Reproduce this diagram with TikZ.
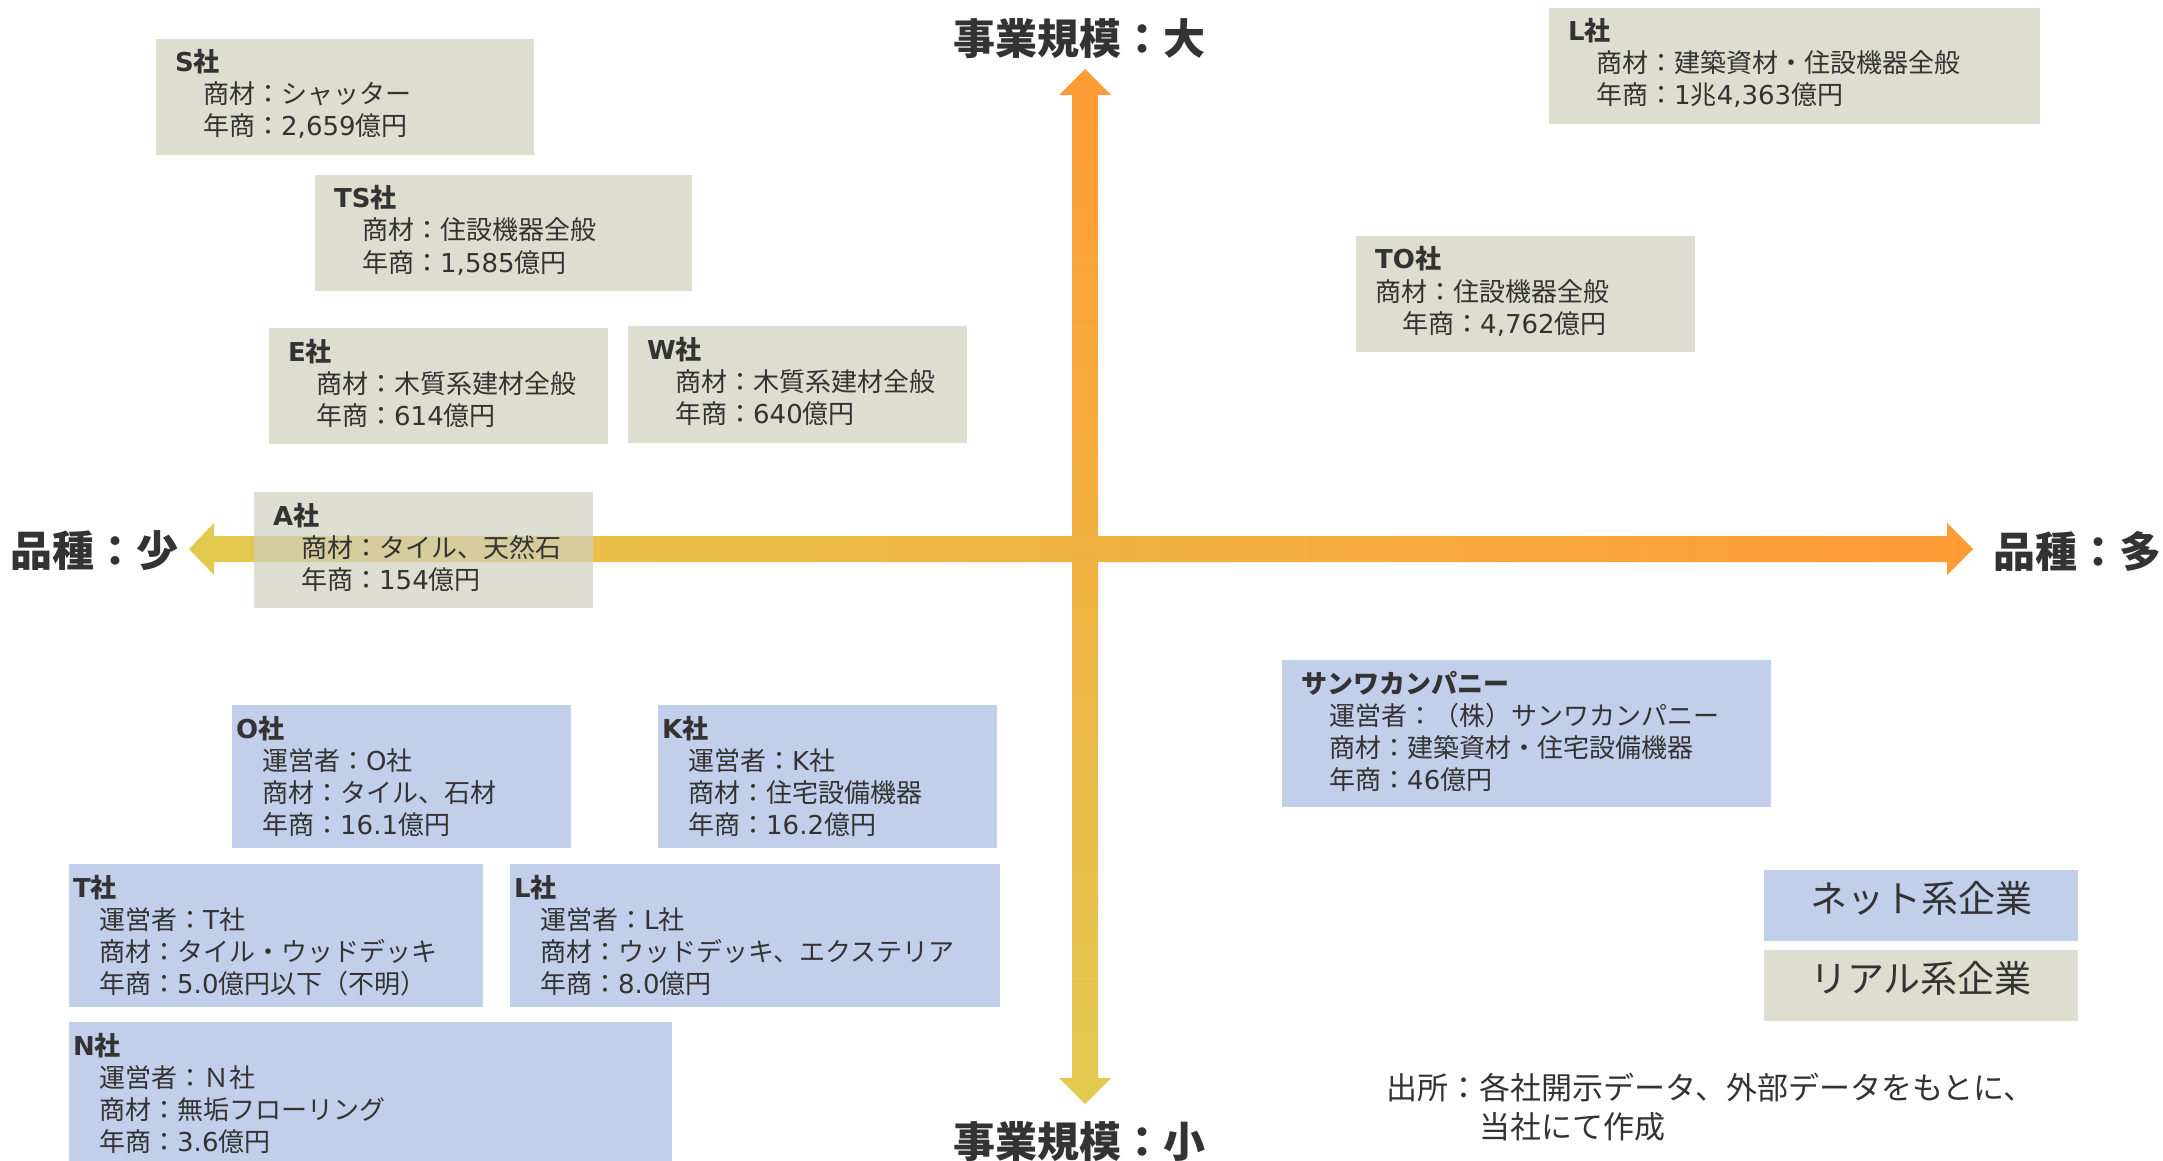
\documentclass[tikz,border=0pt]{standalone}
\usepackage{fontspec}
\setmainfont{DejaVu Sans}
\newfontfamily\cjkf{Noto Sans CJK JP}
\newfontfamily\latf{DejaVu Sans}
\XeTeXinterchartokenstate=1
\newXeTeXintercharclass\cjkcls
\count255="3000
\loop \XeTeXcharclass\count255=\cjkcls \ifnum\count255<"30FF \advance\count255 by 1 \repeat
\count255="4E00
\loop \XeTeXcharclass\count255=\cjkcls \ifnum\count255<"9FFF \advance\count255 by 1 \repeat
\count255="FF00
\loop \XeTeXcharclass\count255=\cjkcls \ifnum\count255<"FFEF \advance\count255 by 1 \repeat
\XeTeXinterchartoks 0 \cjkcls = {\cjkf}
\XeTeXinterchartoks 4095 \cjkcls = {\cjkf}
\XeTeXinterchartoks \cjkcls 0 = {\latf}
\definecolor{realc}{HTML}{DDDDD0}
\definecolor{realt}{HTML}{D0D0BF}
\definecolor{netc}{HTML}{C2CFEA}
\definecolor{txtc}{HTML}{333333}
\definecolor{axy}{HTML}{E2CA50}
\definecolor{axo}{HTML}{FF9B34}
\tikzset{
  boxbase/.style={rectangle, inner sep=0pt, outer sep=0pt, draw=none},
  realbox/.style={boxbase, fill=realc},
  realboxt/.style={boxbase, fill=realt, fill opacity=0.7},
  netbox/.style={boxbase, fill=netc},
  bt/.style={anchor=base west, inner sep=0pt, text=txtc, font=\fontsize{26}{32}\selectfont},
  ttl/.style={bt, font=\fontsize{26}{32}\selectfont\bfseries},
  axlbl/.style={anchor=west, inner sep=0pt, text=txtc, font=\fontsize{42}{50}\selectfont\bfseries},
  srctxt/.style={anchor=base west, inner sep=0pt, text=txtc, font=\fontsize{31}{38}\selectfont},
  legtxt/.style={anchor=center, inner sep=0pt, text=txtc, font=\fontsize{37}{44}\selectfont},
}
\newcommand\mkbox[6]{\node[#2, minimum width={#5-#3}, minimum height={#6-#4}] (#1) at ({(#3+#5)/2},{(#4+#6)/2}) {};}
\newcommand\btx[4]{\node[bt] at ([shift={(#2,#3)}]#1.north west) {#4};}
\newcommand\ttx[4]{\node[ttl] at ([shift={(#2,#3)}]#1.north west) {#4};}
\begin{document}
\begin{tikzpicture}[x=1pt,y=-1pt]
\fill[white] (0,0) rectangle (2163,1161);
\useasboundingbox (0,0) rectangle (2163,1161);

% axes
\shade[left color=axy, right color=axo] (189,549) -- (214,523) -- (214,536) -- (1947,536) -- (1947,523) -- (1973,549) -- (1947,575) -- (1947,562) -- (214,562) -- (214,575) -- cycle;
\shade[top color=axo, bottom color=axy] (1085,69) -- (1111,95) -- (1098,95) -- (1098,1078) -- (1111,1078) -- (1085,1104) -- (1059,1078) -- (1072,1078) -- (1072,95) -- (1059,95) -- cycle;

\node[axlbl] (hl) at (10,551) {品種：少};
\node[axlbl] (hr) at (1993,551) {品種：多};
\node[axlbl] (vt) at (953,39) {事業規模：大};
\node[axlbl] (vb) at (953,1142) {事業規模：小};

% real companies
\mkbox{S}{realbox}{156}{39}{534}{155}
\ttx{S}{19}{33}{S社}
\btx{S}{47}{65}{商材：シャッター}
\btx{S}{47}{97}{年商：2,659億円}

\mkbox{TS}{realbox}{315}{175}{692}{291}
\ttx{TS}{19}{33}{TS社}
\btx{TS}{47}{65}{商材：住設機器全般}
\btx{TS}{47}{97}{年商：1,585億円}

\mkbox{E}{realbox}{269}{328}{608}{444}
\ttx{E}{19}{33}{E社}
\btx{E}{47}{65}{商材：木質系建材全般}
\btx{E}{47}{97}{年商：614億円}

\mkbox{W}{realbox}{628}{326}{967}{443}
\ttx{W}{19}{33}{W社}
\btx{W}{47}{65}{商材：木質系建材全般}
\btx{W}{47}{97}{年商：640億円}

\mkbox{A}{realboxt}{254}{492}{593}{608}
\ttx{A}{19}{33}{A社}
\btx{A}{47}{65}{商材：タイル、天然石}
\btx{A}{47}{97}{年商：154億円}

\mkbox{L}{realbox}{1549}{8}{2040}{124}
\ttx{L}{19}{33}{L社}
\btx{L}{47}{65}{商材：建築資材・住設機器全般}
\btx{L}{47}{97}{年商：1兆4,363億円}

\mkbox{TO}{realbox}{1356}{236}{1695}{352}
\ttx{TO}{19}{33}{TO社}
\btx{TO}{19}{65}{商材：住設機器全般}
\btx{TO}{46}{97}{年商：4,762億円}

% net companies
\mkbox{SW}{netbox}{1282}{660}{1771}{807}
\ttx{SW}{19}{33}{サンワカンパニー}
\btx{SW}{47}{65}{運営者：（株）サンワカンパニー}
\btx{SW}{47}{97}{商材：建築資材・住宅設備機器}
\btx{SW}{47}{129}{年商：46億円}

\mkbox{O}{netbox}{232}{705}{571}{848}
\ttx{O}{4}{33}{O社}
\btx{O}{30}{65}{運営者：O社}
\btx{O}{30}{97}{商材：タイル、石材}
\btx{O}{30}{129}{年商：16.1億円}

\mkbox{K}{netbox}{658}{705}{997}{848}
\ttx{K}{4}{33}{K社}
\btx{K}{30}{65}{運営者：K社}
\btx{K}{30}{97}{商材：住宅設備機器}
\btx{K}{30}{129}{年商：16.2億円}

\mkbox{T}{netbox}{69}{864}{483}{1007}
\ttx{T}{4}{33}{T社}
\btx{T}{30}{65}{運営者：T社}
\btx{T}{30}{97}{商材：タイル・ウッドデッキ}
\btx{T}{30}{129}{年商：5.0億円以下（不明）}

\mkbox{L2}{netbox}{510}{864}{1000}{1007}
\ttx{L2}{4}{33}{L社}
\btx{L2}{30}{65}{運営者：L社}
\btx{L2}{30}{97}{商材：ウッドデッキ、エクステリア}
\btx{L2}{30}{129}{年商：8.0億円}

\mkbox{N}{netbox}{69}{1022}{672}{1161}
\ttx{N}{4}{33}{N社}
\btx{N}{30}{65}{運営者：Ｎ社}
\btx{N}{30}{97}{商材：無垢フローリング}
\btx{N}{30}{129}{年商：3.6億円}

% legend
\mkbox{net}{netbox}{1764}{870}{2078}{941}
\node[legtxt] (netl) at (1921,898) {ネット系企業};
\mkbox{real}{realbox}{1764}{950}{2078}{1021}
\node[legtxt] (reall) at (1921,978) {リアル系企業};

% source
\node[srctxt] (s1) at (1386,1099) {出所：各社開示データ、外部データをもとに、};
\node[srctxt] (s2) at (1479,1138) {当社にて作成};
\end{tikzpicture}
\end{document}
